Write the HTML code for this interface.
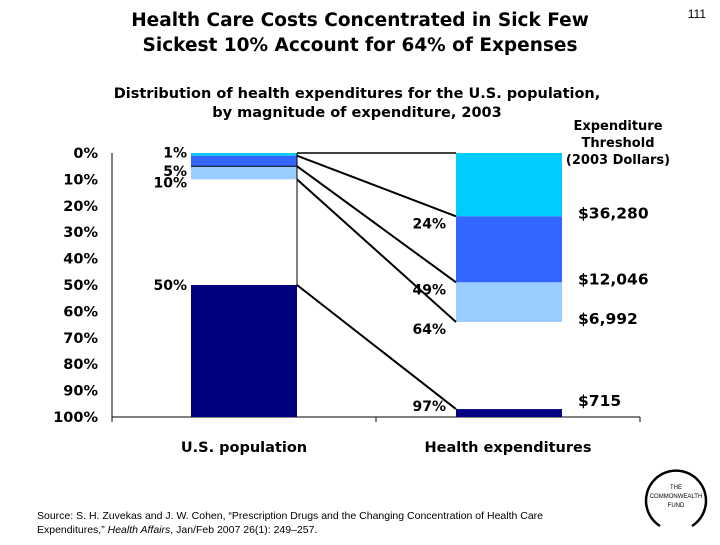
<!DOCTYPE html>
<html><head><meta charset="utf-8"><style>
body{margin:0;background:#fff;width:720px;height:540px;overflow:hidden;font-family:"Liberation Sans",sans-serif}
</style></head><body>
<svg width="720" height="540" xmlns="http://www.w3.org/2000/svg" font-family="DejaVu Sans, sans-serif">
<text x="360" y="26" text-anchor="middle" font-size="18.5" font-weight="bold">Health Care Costs Concentrated in Sick Few</text>
<text x="360" y="51" text-anchor="middle" font-size="18.5" font-weight="bold">Sickest 10% Account for 64% of Expenses</text>
<text x="706" y="18" text-anchor="end" font-size="12" font-family="Liberation Sans, sans-serif">111</text>
<text x="357" y="98" text-anchor="middle" font-size="14.5" font-weight="bold">Distribution of health expenditures for the U.S. population,</text>
<text x="357" y="117" text-anchor="middle" font-size="14.5" font-weight="bold">by magnitude of expenditure, 2003</text>
<g font-size="13" font-weight="bold" text-anchor="middle">
<text x="618" y="130">Expenditure</text><text x="618" y="147">Threshold</text><text x="618" y="164">(2003 Dollars)</text></g>
<g id="plot"></g>
<g font-family="Liberation Sans, sans-serif">
<path d="M660,526 A30,30 0 1 1 692,526" fill="none" stroke="#000" stroke-width="2.5"/>
<text x="676" y="489" text-anchor="middle" font-size="6">THE</text>
<text x="676" y="498" text-anchor="middle" font-size="6">COMMONWEALTH</text>
<text x="676" y="507" text-anchor="middle" font-size="6">FUND</text></g>
<text x="37" y="519" font-size="10.5" font-family="Liberation Sans, sans-serif">Source: S. H. Zuvekas and J. W. Cohen, “Prescription Drugs and the Changing Concentration of Health Care</text>
<text x="37" y="533" font-size="10.5" font-family="Liberation Sans, sans-serif">Expenditures,” <tspan font-style="italic">Health Affairs</tspan>, Jan/Feb 2007 26(1): 249–257.</text>
</svg>
<script>
const categories=["U.S. population","Health expenditures"];
const popBreaks=[1,5,10,50];
const expBreaks=[24,49,64,97];
const thresholds=["$36,280","$12,046","$6,992","$715"];
const yTicks=[0,10,20,30,40,50,60,70,80,90,100];
const colors=["#00ccff","#3366ff","#99ccff","#ffffff","#000080"];
const NS="http://www.w3.org/2000/svg";
const g=document.getElementById('plot');
const y0=153,y1=417,xl=112,xr=640;
const y=v=>y0+(y1-y0)*v/100;
const barW=106, lx=191, rx=456;
function el(t,a,p){const e=document.createElementNS(NS,t);for(const k in a)e.setAttribute(k,a[k]);(p||g).appendChild(e);return e;}
let ax=el('line',{x1:xl,y1:y0,x2:xl,y2:y1,stroke:'#000'});


let bx=el('line',{x1:xl,y1:y1,x2:xr,y2:y1,stroke:'#000'});


[xl,(xl+xr)/2,xr].forEach(x=>el('line',{x1:x,y1:y1,x2:x,y2:y1+5,stroke:'#000'}));
yTicks.forEach(v=>{const t=el('text',{x:98,y:y(v)+5,'text-anchor':'end','font-size':14.5,'font-weight':'bold'});t.textContent=v+'%';

});
categories.forEach((c,i)=>{const t=el('text',{x:xl+(xr-xl)*(i+0.5)/2,y:452,'text-anchor':'middle','font-size':14.5,'font-weight':'bold'});t.textContent=c;

});
function stack(x,br,name){const b=[0,...br,100];for(let i=0;i<5;i++){const r=el('rect',{x:x,y:y(b[i]),width:barW,height:y(b[i+1])-y(b[i]),fill:colors[i]});

}}
stack(lx,popBreaks,'population');
stack(rx,expBreaks,'expenditure');
el('line',{x1:lx,y1:y(popBreaks[1]),x2:lx+barW,y2:y(popBreaks[1]),stroke:'#000'});
el('line',{x1:lx+barW,y1:y0,x2:rx,y2:y0,stroke:'#000','stroke-width':1.5});
el('line',{x1:lx+barW,y1:y0,x2:lx+barW,y2:y(popBreaks[3]),stroke:'#000','stroke-width':1});
popBreaks.forEach((p,i)=>{const l=el('line',{x1:lx+barW,y1:y(p),x2:rx,y2:y(expBreaks[i]),stroke:'#000','stroke-width':2});


const t=el('text',{x:lx-4,y:y(p)+(i==0?2:i==1?10:i==2?8:5),'text-anchor':'end','font-size':14,'font-weight':'bold'});t.textContent=p+'%';


const u=el('text',{x:rx-10,y:y(expBreaks[i])+(i==3?2:12),'text-anchor':'end','font-size':14,'font-weight':'bold'});u.textContent=expBreaks[i]+'%';


const th=el('text',{x:578,y:y(expBreaks[i])+(i==3?-3:2),'font-size':15.5,'font-weight':'bold'});th.textContent=thresholds[i];

});
</script>
</body></html>
